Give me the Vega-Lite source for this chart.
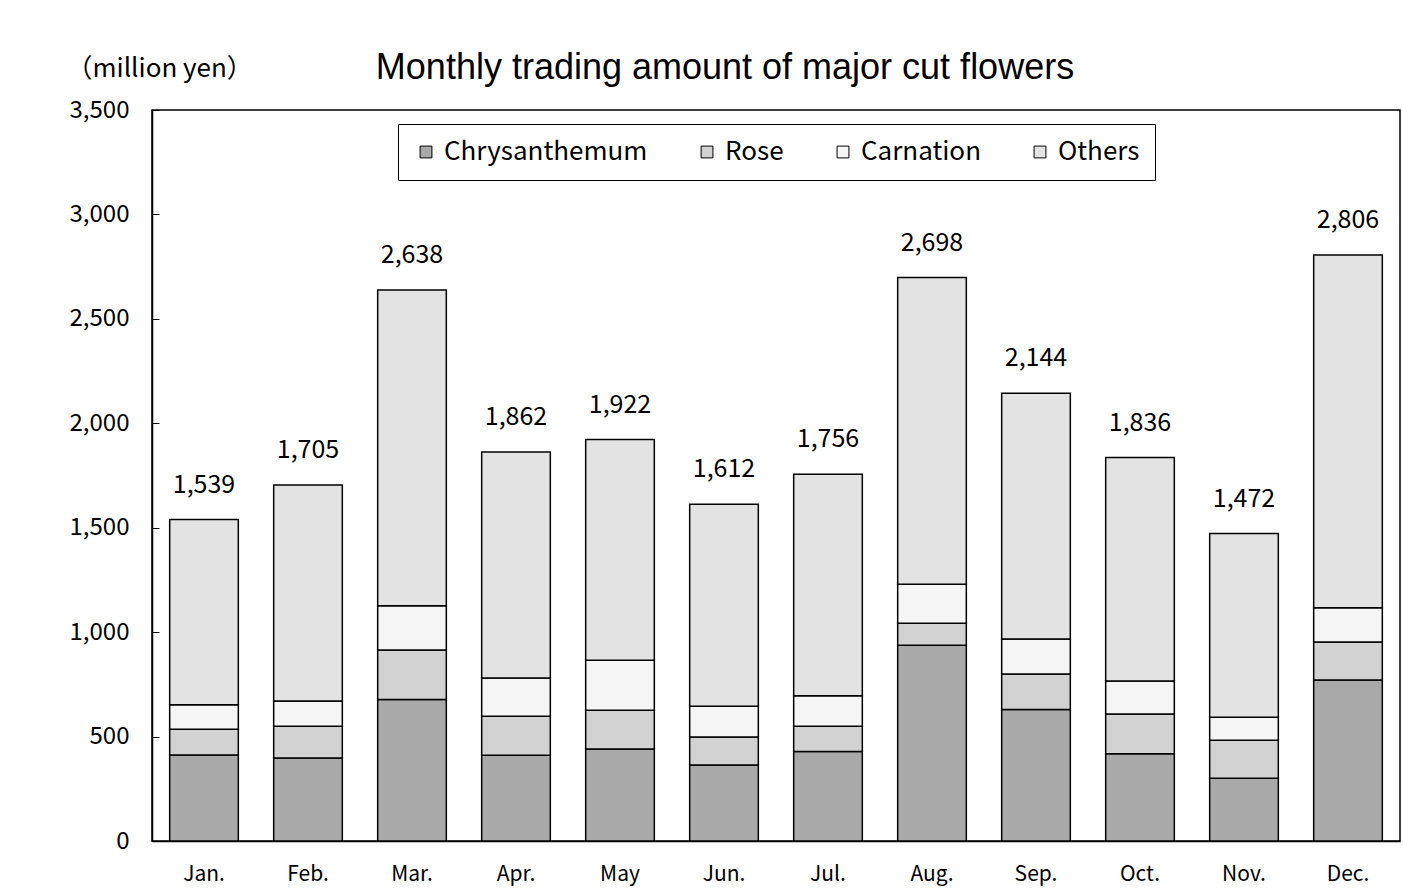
{
  "$schema": "https://vega.github.io/schema/vega-lite/v6.json",
  "width": 1248,
  "height": 731,
  "autosize": "none",
  "padding": {"left": 152, "top": 110, "right": 3, "bottom": 53},
  "background": "white",
  "config": {
    "view": {"stroke": "black", "strokeWidth": 1.5},
    "font": "Noto Sans CJK JP"
  },
  "title": {
    "text": "Monthly trading amount of major cut flowers",
    "font": "Liberation Sans",
    "fontSize": 36,
    "fontWeight": "normal",
    "color": "black",
    "anchor": "middle",
    "dx": -51,
    "offset": -32
  },
  "datasets": {
    "flowers": [
      {"month": "Jan.", "type": "Chrysanthemum", "order": 1, "value": 412},
      {"month": "Jan.", "type": "Rose", "order": 2, "value": 123},
      {"month": "Jan.", "type": "Carnation", "order": 3, "value": 117},
      {"month": "Jan.", "type": "Others", "order": 4, "value": 887},
      {"month": "Feb.", "type": "Chrysanthemum", "order": 1, "value": 397},
      {"month": "Feb.", "type": "Rose", "order": 2, "value": 153},
      {"month": "Feb.", "type": "Carnation", "order": 3, "value": 120},
      {"month": "Feb.", "type": "Others", "order": 4, "value": 1035},
      {"month": "Mar.", "type": "Chrysanthemum", "order": 1, "value": 678},
      {"month": "Mar.", "type": "Rose", "order": 2, "value": 236},
      {"month": "Mar.", "type": "Carnation", "order": 3, "value": 212},
      {"month": "Mar.", "type": "Others", "order": 4, "value": 1512},
      {"month": "Apr.", "type": "Chrysanthemum", "order": 1, "value": 410},
      {"month": "Apr.", "type": "Rose", "order": 2, "value": 187},
      {"month": "Apr.", "type": "Carnation", "order": 3, "value": 183},
      {"month": "Apr.", "type": "Others", "order": 4, "value": 1082},
      {"month": "May", "type": "Chrysanthemum", "order": 1, "value": 440},
      {"month": "May", "type": "Rose", "order": 2, "value": 186},
      {"month": "May", "type": "Carnation", "order": 3, "value": 239},
      {"month": "May", "type": "Others", "order": 4, "value": 1057},
      {"month": "Jun.", "type": "Chrysanthemum", "order": 1, "value": 364},
      {"month": "Jun.", "type": "Rose", "order": 2, "value": 134},
      {"month": "Jun.", "type": "Carnation", "order": 3, "value": 147},
      {"month": "Jun.", "type": "Others", "order": 4, "value": 967},
      {"month": "Jul.", "type": "Chrysanthemum", "order": 1, "value": 428},
      {"month": "Jul.", "type": "Rose", "order": 2, "value": 121},
      {"month": "Jul.", "type": "Carnation", "order": 3, "value": 147},
      {"month": "Jul.", "type": "Others", "order": 4, "value": 1060},
      {"month": "Aug.", "type": "Chrysanthemum", "order": 1, "value": 937},
      {"month": "Aug.", "type": "Rose", "order": 2, "value": 105},
      {"month": "Aug.", "type": "Carnation", "order": 3, "value": 187},
      {"month": "Aug.", "type": "Others", "order": 4, "value": 1469},
      {"month": "Sep.", "type": "Chrysanthemum", "order": 1, "value": 630},
      {"month": "Sep.", "type": "Rose", "order": 2, "value": 169},
      {"month": "Sep.", "type": "Carnation", "order": 3, "value": 168},
      {"month": "Sep.", "type": "Others", "order": 4, "value": 1177},
      {"month": "Oct.", "type": "Chrysanthemum", "order": 1, "value": 418},
      {"month": "Oct.", "type": "Rose", "order": 2, "value": 190},
      {"month": "Oct.", "type": "Carnation", "order": 3, "value": 158},
      {"month": "Oct.", "type": "Others", "order": 4, "value": 1070},
      {"month": "Nov.", "type": "Chrysanthemum", "order": 1, "value": 300},
      {"month": "Nov.", "type": "Rose", "order": 2, "value": 182},
      {"month": "Nov.", "type": "Carnation", "order": 3, "value": 110},
      {"month": "Nov.", "type": "Others", "order": 4, "value": 880},
      {"month": "Dec.", "type": "Chrysanthemum", "order": 1, "value": 771},
      {"month": "Dec.", "type": "Rose", "order": 2, "value": 182},
      {"month": "Dec.", "type": "Carnation", "order": 3, "value": 164},
      {"month": "Dec.", "type": "Others", "order": 4, "value": 1689}
    ],
    "totals": [
      {"month": "Jan.", "total": 1539},
      {"month": "Feb.", "total": 1705},
      {"month": "Mar.", "total": 2638},
      {"month": "Apr.", "total": 1862},
      {"month": "May", "total": 1922},
      {"month": "Jun.", "total": 1612},
      {"month": "Jul.", "total": 1756},
      {"month": "Aug.", "total": 2698},
      {"month": "Sep.", "total": 2144},
      {"month": "Oct.", "total": 1836},
      {"month": "Nov.", "total": 1472},
      {"month": "Dec.", "total": 2806}
    ]
  },
  "encoding": {
    "x": {
      "field": "month",
      "type": "nominal",
      "sort": null,
      "scale": {"paddingInner": 0.34, "paddingOuter": 0.17},
      "axis": {
        "title": null,
        "labelAngle": 0,
        "labelFontSize": 21,
        "labelColor": "black",
        "labelPadding": 28,
        "domainColor": "black",
        "domainWidth": 1.5,
        "tickColor": "black",
        "tickSize": -6,
        "bandPosition": 0
      }
    }
  },
  "layer": [
    {
      "data": {"name": "flowers"},
      "mark": {"type": "bar", "stroke": "black", "strokeWidth": 1.5},
      "encoding": {
        "y": {
          "field": "value",
          "type": "quantitative",
          "stack": "zero",
          "scale": {"domain": [0, 3500], "nice": false},
          "axis": {
            "values": [0, 500, 1000, 1500, 2000, 2500, 3000, 3500],
            "labelExpr": "format(datum.value, ',')",
            "grid": false,
            "title": "（million yen）",
            "titleAngle": 0,
            "titleAlign": "left",
            "titleBaseline": "middle",
            "titleX": -86,
            "titleY": -42,
            "titleFontSize": 26,
            "titleFontWeight": "normal",
            "titleColor": "black",
            "labelFontSize": 24,
            "labelColor": "black",
            "labelPadding": 30,
            "domainColor": "black",
            "domainWidth": 1.5,
            "tickColor": "black",
            "tickSize": -7
          }
        },
        "order": {"field": "order", "type": "quantitative"},
        "fill": {
          "field": "type",
          "type": "nominal",
          "scale": {
            "domain": ["Chrysanthemum", "Rose", "Carnation", "Others"],
            "range": ["#a9a9a9", "#d2d2d2", "#f6f6f6", "#e3e3e3"]
          },
          "legend": {
            "title": null,
            "orient": "none",
            "direction": "horizontal",
            "legendX": 246,
            "legendY": 14,
            "fillColor": "white",
            "strokeColor": "black",
            "padding": 15,
            "symbolType": "square",
            "symbolSize": 140,
            "symbolStrokeColor": "black",
            "symbolStrokeWidth": 1,
            "labelFontSize": 26,
            "labelColor": "black",
            "labelOffset": 5,
            "columnPadding": 46,
            "labelLimit": 300
          }
        }
      }
    },
    {
      "data": {"name": "totals"},
      "mark": {"type": "text", "fontSize": 25, "color": "black", "baseline": "middle", "dy": -35},
      "encoding": {
        "y": {"field": "total", "type": "quantitative"},
        "text": {"field": "total", "type": "quantitative", "format": ","}
      }
    }
  ]
}
